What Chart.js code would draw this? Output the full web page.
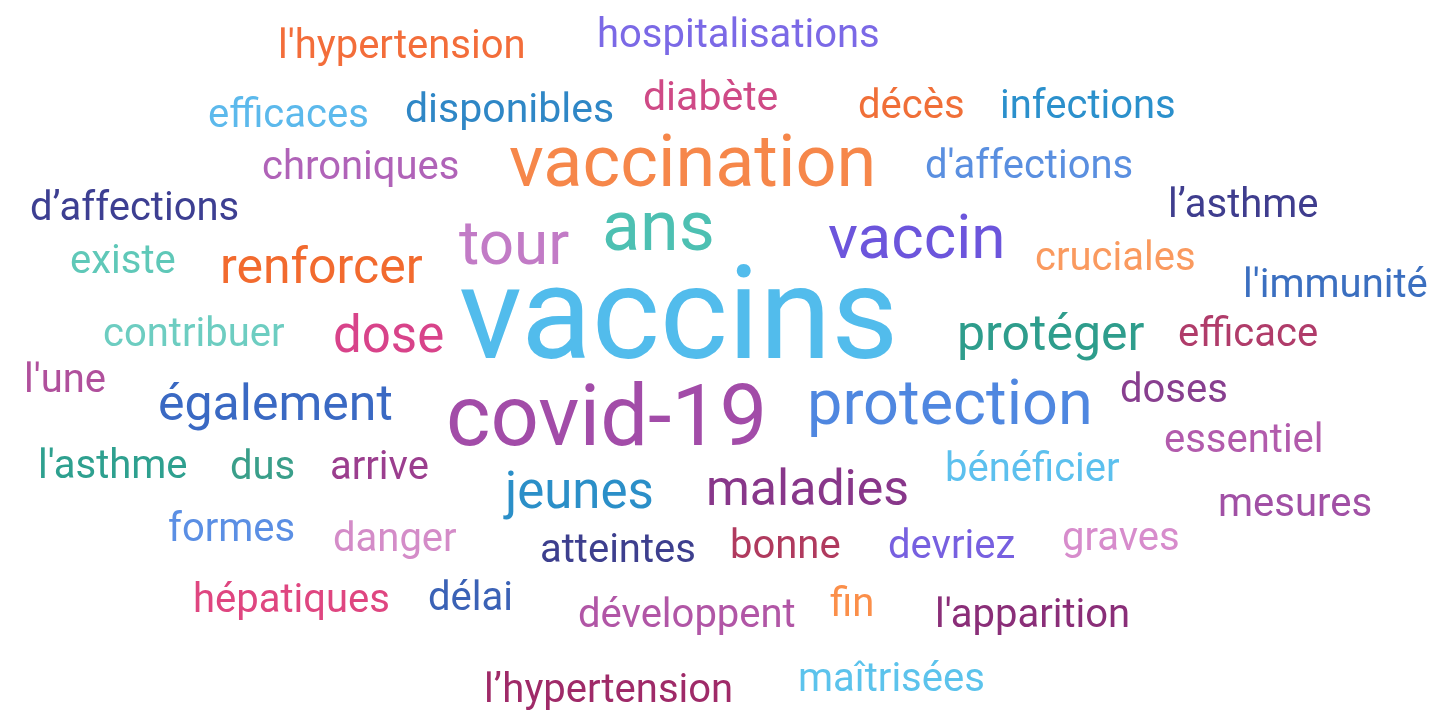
<!DOCTYPE html>
<html lang="fr">
<head>
<meta charset="utf-8">
<title>Nuage de mots - vaccins</title>
<script src="https://cdn.jsdelivr.net/npm/chart.js@4.4.1/dist/chart.umd.min.js"></script>
<style>
    html, body { margin: 0; padding: 0; background: #ffffff; }
    #wrap { width: 1436px; height: 711px; }
</style>
</head>
<body>
<div id="wrap"><canvas id="cloud" width="1436" height="711"></canvas></div>
<script>
// Mots du nuage
const words = [
    "l'hypertension", "hospitalisations", "efficaces", "disponibles", "diabète", "décès", "infections",
    "chroniques", "vaccination", "d'affections", "d’affections", "l’asthme", "tour", "ans", "vaccin",
    "existe", "renforcer", "cruciales", "l'immunité", "vaccins", "contribuer", "dose", "protéger",
    "efficace", "l'une", "également", "covid-19", "protection", "doses", "essentiel", "l'asthme",
    "dus", "arrive", "jeunes", "maladies", "bénéficier", "mesures", "formes", "danger", "atteintes",
    "bonne", "devriez", "graves", "hépatiques", "délai", "développent", "fin", "l'apparition",
    "l’hypertension", "maîtrisées"
];

// Poids (fréquence relative) de chaque mot
const wordWeights = [
    40, 40, 40, 41, 41, 40, 40,
    40, 72, 40, 40, 40, 62, 70, 62,
    40, 50, 40, 40, 130, 40, 51, 50,
    40, 40, 50, 85, 63, 40, 40, 40,
    40, 40, 51, 50, 40, 40, 40, 40, 40,
    40, 40, 40, 40, 40, 40, 40, 40,
    40, 40
];

// Coordonnées de placement (espace du nuage)
const wordX = [
    278, 597, 208, 405, 643, 858, 1000,
    262, 509, 925, 30, 1168, 459, 602, 828,
    70, 220, 1035, 1243, 459, 103, 333, 957,
    1178, 24, 158, 446, 807, 1120, 1164, 38,
    230, 330, 505, 706, 945, 1218, 168, 333, 540,
    730, 888, 1062, 193, 428, 578, 830, 935,
    484, 798
];
const wordY = [
    58, 47, 127, 122, 110, 118, 118,
    179, 186, 178, 220, 217, 264, 250, 258,
    273, 283, 270, 297, 358, 346, 352, 350,
    346, 392, 420, 445, 424, 402, 452, 478,
    479, 479, 508, 505, 481, 516, 541, 551, 562,
    558, 558, 550, 612, 610, 627, 616, 627,
    702, 691
];

// Couleurs
const wordColors = [
    '#f36d3a', '#7b69e6', '#5cb9ec', '#2f87c6', '#cf4a86', '#f06f38', '#2b90cc',
    '#b063b8', '#f6874a', '#5a8fe0', '#3d3f92', '#3f3d8e', '#c27bc6', '#4dc0b2', '#6c55dc',
    '#5fc8b8', '#f26a2e', '#fa9a5f', '#3b6fc0', '#52bcec', '#6dcdc1', '#d8438a', '#2e9d8c',
    '#b03c6a', '#b0509c', '#3a69c3', '#a24ca8', '#4f87e0', '#883f8f', '#b25bac', '#2ea08f',
    '#3a9f8a', '#9b3e8e', '#2b8fc8', '#88378a', '#5cc0ee', '#a150a5', '#5b8fe4', '#d48cc8', '#3d3f8e',
    '#b03a5e', '#7760e0', '#d78ccc', '#df4680', '#3b62b6', '#b156a6', '#fb8f4a', '#8a2e78',
    '#9f2a68', '#5cc3ec'
];

// Plugin pour dessiner les mots à la place des points
const wordCloudPlugin = {
    id: 'wordCloud',
    afterDatasetsDraw(chart) {
        const ctx = chart.ctx;
        const xScale = chart.scales.x;
        const yScale = chart.scales.y;
        ctx.save();
        ctx.textAlign = 'left';
        ctx.textBaseline = 'alphabetic';
        chart.data.datasets[0].data.forEach((pt, i) => {
            ctx.font = `400 ${pt.w}px Roboto, "Noto Sans", sans-serif`;
            ctx.fillStyle = wordColors[i];
            ctx.fillText(words[i], xScale.getPixelForValue(pt.x), yScale.getPixelForValue(pt.y));
        });
        ctx.restore();
    }
};

const points = words.map((w, i) => ({ x: wordX[i], y: wordY[i], w: wordWeights[i] }));

new Chart(document.getElementById('cloud').getContext('2d'), {
    type: 'scatter',
    data: {
        datasets: [{
            label: 'mots',
            data: points,
            pointRadius: 0,
            pointHoverRadius: 0
        }]
    },
    options: {
        responsive: false,
        animation: false,
        events: [],
        layout: { padding: 0 },
        plugins: {
            legend: { display: false },
            tooltip: { enabled: false }
        },
        scales: {
            x: { type: 'linear', min: 0, max: 1436, display: false },
            y: { type: 'linear', min: 0, max: 711, reverse: true, display: false }
        }
    },
    plugins: [wordCloudPlugin]
});
</script>
</body>
</html>
